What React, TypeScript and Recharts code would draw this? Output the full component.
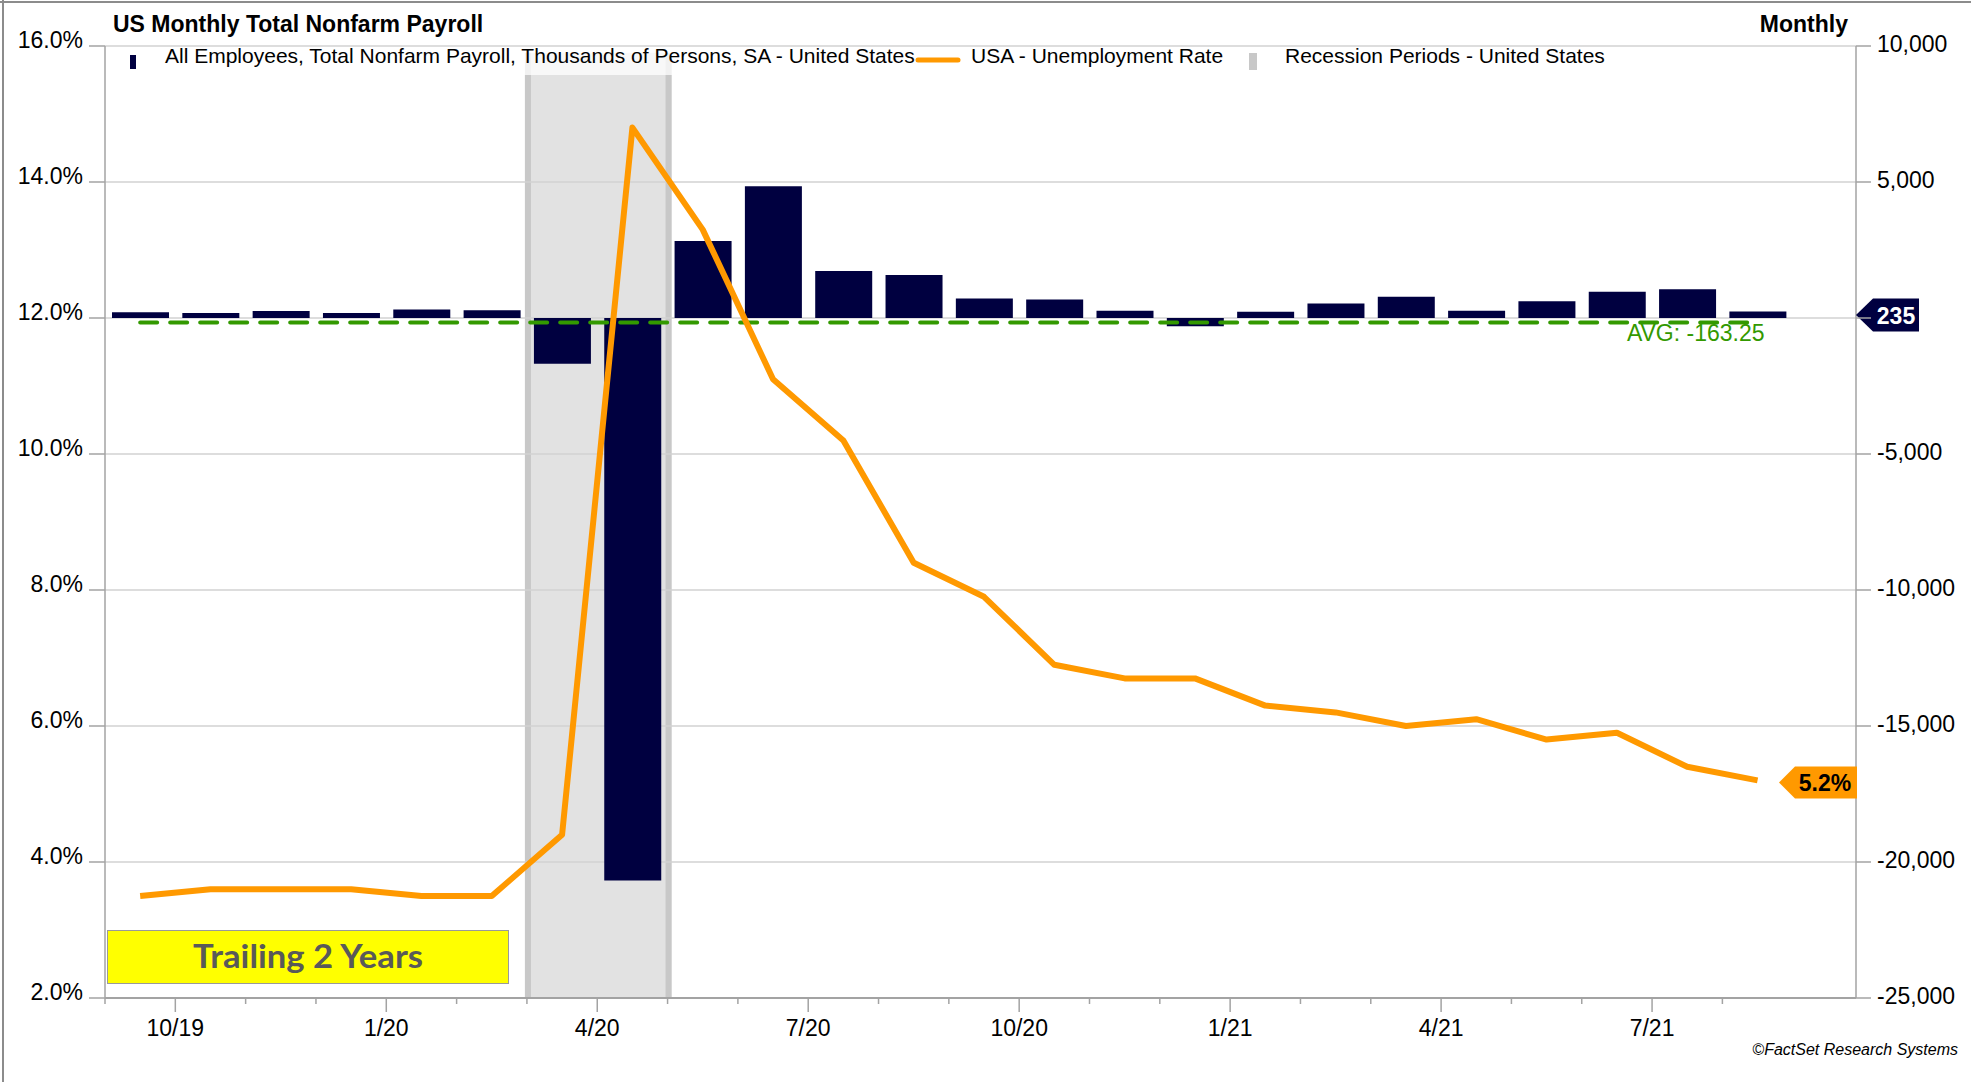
import React from 'react'
import {
  ComposedChart,
  Bar,
  Line,
  XAxis,
  YAxis,
  CartesianGrid,
  ReferenceArea,
  ReferenceLine,
  ReferenceDot,
} from 'recharts'

const months = [
  '9/19', '10/19', '11/19', '12/19', '1/20', '2/20', '3/20', '4/20',
  '5/20', '6/20', '7/20', '8/20', '9/20', '10/20', '11/20', '12/20',
  '1/21', '2/21', '3/21', '4/21', '5/21', '6/21', '7/21', '8/21',
]
// thousands of persons, monthly change
const payrollChange = [
  208, 185, 261, 184, 315, 289, -1683, -20679,
  2833, 4846, 1726, 1583, 716, 680, 264, -306,
  233, 536, 785, 269, 614, 962, 1053, 235,
]
const unemploymentRate = [
  3.5, 3.6, 3.6, 3.6, 3.5, 3.5, 4.4, 14.8,
  13.3, 11.1, 10.2, 8.4, 7.9, 6.9, 6.7, 6.7,
  6.3, 6.2, 6.0, 6.1, 5.8, 5.9, 5.4, 5.2,
]
const recessionMonths = ['3/20', '4/20']
const payrollAverage = -163.25
const rateTicks = [2, 4, 6, 8, 10, 12, 14, 16]
const payrollTicks = [-25000, -20000, -15000, -10000, -5000, 0, 5000, 10000]
const quarterStarts = ['1', '4', '7', '10']

const NAVY = '#000040'
const ORANGE = '#FF9900'
const GREEN = '#339900'
const AXIS = '#a3a3a3'
const FONT = "'Liberation Sans', Arial, sans-serif"

const X_MAX = 24.9

const data = months.map((m, i) => ({
  x: i + 0.5,
  month: m,
  payroll: payrollChange[i],
  rate: unemploymentRate[i],
}))

// tick at each month boundary, label at quarter starts
const boundaryTicks = months.map((_, i) => i)
const boundaryLabel = (i: number) =>
  quarterStarts.includes(months[i]?.split('/')[0]) ? months[i] : null

const XTick = (p: any) => {
  const { x, y, payload } = p
  const label = boundaryLabel(payload.value)
  return (
    <g>
      <line x1={x} x2={x} y1={y} y2={y + (label ? 14 : 6)} stroke={AXIS} strokeWidth={1.5} />
      {label && (
        <text x={x} y={y + 38} textAnchor="middle" fontSize={23} fill="#000">
          {label}
        </text>
      )}
    </g>
  )
}

const RateTick = (p: any) => {
  const { x, y, payload } = p
  return (
    <g>
      <line x1={x - 16} x2={x} y1={y} y2={y} stroke={AXIS} strokeWidth={1.5} />
      <text x={x - 22} y={y + 2} textAnchor="end" fontSize={23} fill="#000">
        {payload.value.toFixed(1)}%
      </text>
    </g>
  )
}

// the zero label sits under the latest-value tag, so it is not written
const PayrollTick = (p: any) => {
  const { x, y, payload } = p
  return (
    <g>
      <line x1={x} x2={x + 15} y1={y} y2={y} stroke={AXIS} strokeWidth={1.5} />
      {payload.value !== 0 && (
        <text x={x + 21} y={y + 6} textAnchor="start" fontSize={23} fill="#000">
          {payload.value.toLocaleString('en-US')}
        </text>
      )}
    </g>
  )
}

const RecessionShape = (p: any) => {
  const x = p.x - 2
  const w = p.width + 6
  return (
    <g>
      <rect x={x} y={p.y} width={w} height={p.height} fill="#e2e2e2" />
      <rect x={x} y={p.y} width={6} height={p.height} fill="#c8c8c8" />
      <rect x={x + w - 6} y={p.y} width={6} height={p.height} fill="#c8c8c8" />
    </g>
  )
}

const PayrollTag = (p: any) => {
  const { cx, cy } = p
  const t = cy + 3.5
  return (
    <g>
      <polygon
        points={`${cx},${t} ${cx + 17},${cy - 13} ${cx + 63},${cy - 13} ${cx + 63},${cy + 20} ${cx + 17},${cy + 20}`}
        fill={NAVY}
      />
      <text x={cx + 40} y={t + 8.5} textAnchor="middle" fontSize={23} fontWeight="bold" fill="#fff">
        {payrollChange[payrollChange.length - 1]}
      </text>
    </g>
  )
}

const RateTag = (p: any) => {
  const { cx, cy } = p
  const t = cy + 2
  return (
    <g>
      <polygon
        points={`${cx - 77},${t} ${cx - 61},${cy - 14} ${cx + 1},${cy - 14} ${cx + 1},${cy + 18} ${cx - 61},${cy + 18}`}
        fill={ORANGE}
      />
      <text x={cx - 31} y={t + 8.5} textAnchor="middle" fontSize={23} fontWeight="bold" fill="#000">
        {unemploymentRate[unemploymentRate.length - 1].toFixed(1)}%
      </text>
    </g>
  )
}

const AvgLabel = (p: any) => {
  const vb = p.viewBox || {}
  return (
    <text x={vb.x + vb.width + 7} y={vb.y + 19} textAnchor="end" fontSize={23} fill={GREEN}>
      AVG: {payrollAverage}
    </text>
  )
}

export default function App() {
  return (
    <div style={{ position: 'absolute', left: 0, top: 0, width: 1971, height: 1082, fontFamily: FONT, background: '#fff' }}>
      <ComposedChart
        width={1971}
        height={1082}
        data={data}
        margin={{ top: 46, right: 15, bottom: 24, left: 15 }}
      >
        <CartesianGrid vertical={false} yAxisId="left" stroke="#d2d2d2" strokeWidth={1.5} />
        <XAxis
          dataKey="x"
          type="number"
          domain={[0, X_MAX]}
          ticks={boundaryTicks}
          interval={0}
          tick={<XTick />}
          tickLine={false}
          tickSize={0}
          tickMargin={0}
          height={60}
          axisLine={{ stroke: AXIS, strokeWidth: 2 }}
        />
        <YAxis
          yAxisId="left"
          orientation="left"
          domain={[2, 16]}
          ticks={rateTicks}
          interval={0}
          width={90}
          tick={<RateTick />}
          tickLine={false}
          tickSize={0}
          tickMargin={0}
          axisLine={{ stroke: AXIS, strokeWidth: 1.5 }}
        />
        <YAxis
          yAxisId="right"
          orientation="right"
          domain={[-25000, 10000]}
          ticks={payrollTicks}
          interval={0}
          width={100}
          tick={<PayrollTick />}
          tickLine={false}
          tickSize={0}
          tickMargin={0}
          axisLine={{ stroke: AXIS, strokeWidth: 1.5 }}
        />
        <ReferenceArea
          yAxisId="left"
          x1={months.indexOf(recessionMonths[0])}
          x2={months.indexOf(recessionMonths[recessionMonths.length - 1]) + 1}
          y1={2}
          y2={15.9}
          shape={<RecessionShape />}
          zIndex={-200}
        />
        <Bar yAxisId="right" dataKey="payroll" fill={NAVY} barSize={57} isAnimationActive={false} />
        <ReferenceLine
          yAxisId="right"
          segment={[
            { x: data[0].x, y: payrollAverage },
            { x: data[data.length - 1].x, y: payrollAverage },
          ]}
          stroke={GREEN}
          strokeWidth={4}
          strokeDasharray="17 13"
          strokeLinecap="round"
          label={<AvgLabel />}
        />
        <Line
          yAxisId="left"
          type="linear"
          dataKey="rate"
          stroke={ORANGE}
          strokeWidth={6}
          strokeLinejoin="round"
          dot={false}
          isAnimationActive={false}
        />
        <ReferenceDot
          yAxisId="right"
          x={X_MAX}
          y={payrollChange[payrollChange.length - 1]}
          shape={<PayrollTag />}
          ifOverflow="visible"
        />
        <ReferenceDot
          yAxisId="left"
          x={X_MAX}
          y={unemploymentRate[unemploymentRate.length - 1]}
          shape={<RateTag />}
          ifOverflow="visible"
        />
      </ComposedChart>

      <svg
        width={1971}
        height={1082}
        style={{ position: 'absolute', left: 0, top: 0, pointerEvents: 'none' }}
      >
        <line x1={0} x2={1971} y1={2} y2={2} stroke="#8c8c8c" strokeWidth={2} />
        <line x1={3} x2={3} y1={0} y2={1082} stroke="#8c8c8c" strokeWidth={2} />

        <text x={113} y={32} fontSize={23} fontWeight="bold" fill="#000">
          US Monthly Total Nonfarm Payroll
        </text>
        <text x={1848} y={32} fontSize={23} fontWeight="bold" fill="#000" textAnchor="end">
          Monthly
        </text>

        <rect x={120} y={52} width={1200} height={23} fill="#fff" opacity={0.75} />
        <rect x={130} y={55} width={6} height={14} fill={NAVY} />
        <text x={165} y={63} fontSize={21} fill="#000">
          All Employees, Total Nonfarm Payroll, Thousands of Persons, SA - United States
        </text>
        <line x1={918} x2={958} y1={60} y2={60} stroke={ORANGE} strokeWidth={5} strokeLinecap="round" />
        <text x={971} y={63} fontSize={21} fill="#000">
          USA - Unemployment Rate
        </text>
        <rect x={1249} y={53} width={8} height={17} fill="#c8c8c8" />
        <text x={1285} y={63} fontSize={21} fill="#000">
          Recession Periods - United States
        </text>

        <rect x={107.5} y={930.5} width={401} height={53} fill="#ffff00" stroke="#9a9a9a" strokeWidth={1} />
        <text
          x={308}
          y={968}
          textAnchor="middle"
          fontFamily="Lato, 'Open Sans', sans-serif"
          fontWeight="bold"
          fontSize={32}
          fill="#595959"
          textLength={230}
          lengthAdjust="spacingAndGlyphs"
        >
          Trailing 2 Years
        </text>

        <text x={1958} y={1055} textAnchor="end" fontSize={16} fontStyle="italic" fill="#000">
          ©FactSet Research Systems
        </text>
      </svg>
    </div>
  )
}
